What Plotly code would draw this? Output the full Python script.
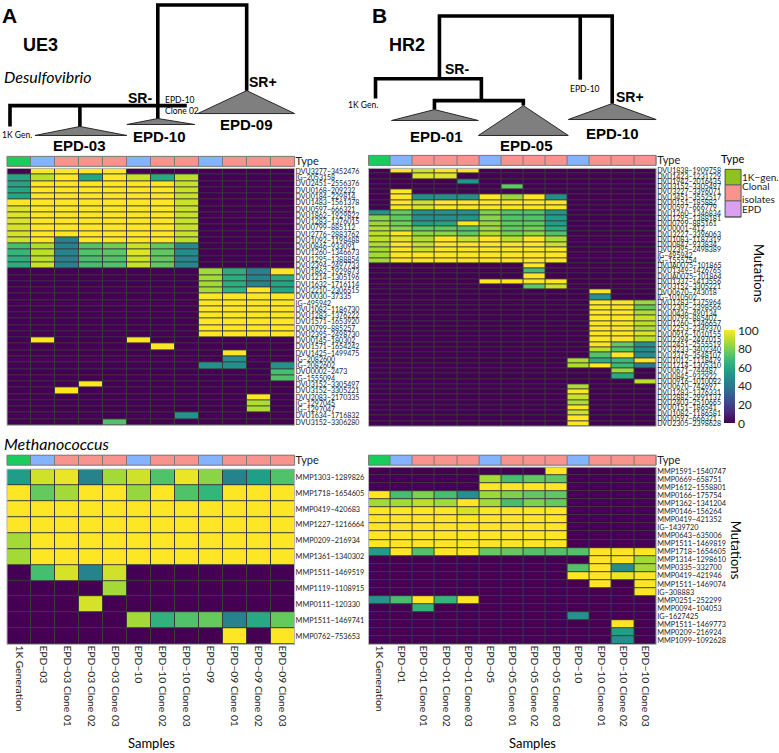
import plotly.graph_objects as go

W, H = 779, 753

# ---------------- data ----------------
samples_A = ["1K Generation", "EPD−03", "EPD−03 Clone 01", "EPD−03 Clone 02", "EPD−03 Clone 03",
             "EPD−10", "EPD−10 Clone 02", "EPD−10 Clone 03", "EPD−09", "EPD−09 Clone 01",
             "EPD−09 Clone 02", "EPD−09 Clone 03"]
types_A = [0, 1, 2, 2, 2, 1, 2, 2, 1, 2, 2, 2]   # 0 = 1K gen, 1 = EPD, 2 = clonal isolate

samples_B = ["1K Generation", "EPD−01", "EPD−01 Clone 01", "EPD−01 Clone 02", "EPD−01 Clone 03",
             "EPD−05", "EPD−05 Clone 01", "EPD−05 Clone 02", "EPD−05 Clone 03", "EPD−10",
             "EPD−10 Clone 01", "EPD−10 Clone 02", "EPD−10 Clone 03"]
types_B = [0, 1, 2, 2, 2, 1, 2, 2, 2, 1, 2, 2, 2]

mut_A_top = ["DVU3277−3452476", "IG−2053158", "DVU2451−2556376", "DVU0168−209232", "DVU0184−229814",
             "DVU1483−1561378", "DVU0597−666321", "DVU1862−1929822", "DVU1283−1376015", "DVU0799−885112",
             "DVU2776−2883762", "DVU1092−1198488", "DVU0846−933091", "DVU1260−1346673", "DVU1295−1388854",
             "DVU2394−2497733", "DVU1862−1929873", "DVU1214−1305196", "DVU1632−1716114", "DVU2210−2306515",
             "DVU0030−37335", "IG−495942", "DVU1082−1186730", "DVU1283−1376222", "DVU1571−1653920",
             "DVU0799−885257", "DVU2395−2498730", "DVU0145−180302", "DVU1571−1654242", "DVU1425−1499475",
             "IG−2082600", "IG−2082602", "DVU0002−2473", "IG−1555094", "DVU3152−3305497",
             "DVU3152−3305221", "DVU2083−2170335", "IG−1297045", "IG−1297047", "DVU1634−1716832",
             "DVU3152−3306280"]
vals_A_top = [
    [0, 100, 100, 100, 100, 0, 0, 0, 0, 0, 0, 0],
    [58, 90, 100, 58, 100, 92, 60, 90, 0, 0, 0, 0],
    [58, 100, 100, 100, 100, 100, 100, 92, 0, 0, 0, 0],
    [58, 100, 100, 100, 100, 100, 100, 92, 0, 0, 0, 0],
    [58, 100, 100, 100, 100, 100, 100, 92, 0, 0, 0, 0],
    [100, 100, 100, 100, 100, 100, 100, 92, 0, 0, 0, 0],
    [95, 100, 100, 100, 100, 100, 100, 92, 0, 0, 0, 0],
    [95, 100, 100, 100, 100, 100, 100, 92, 0, 0, 0, 0],
    [95, 100, 100, 100, 100, 100, 100, 92, 0, 0, 0, 0],
    [94, 100, 100, 100, 100, 100, 100, 92, 0, 0, 0, 0],
    [94, 100, 100, 100, 100, 100, 100, 92, 0, 0, 0, 0],
    [93, 100, 45, 100, 100, 100, 100, 90, 0, 0, 0, 0],
    [70, 88, 45, 72, 78, 92, 75, 48, 0, 0, 0, 0],
    [66, 90, 45, 72, 74, 95, 75, 48, 0, 0, 0, 0],
    [62, 90, 45, 70, 72, 92, 75, 46, 0, 0, 0, 0],
    [62, 92, 45, 70, 72, 92, 75, 46, 0, 0, 0, 0],
    [0, 0, 0, 0, 0, 0, 0, 0, 86, 62, 45, 100],
    [0, 0, 0, 0, 0, 0, 0, 0, 86, 62, 45, 60],
    [0, 0, 0, 0, 0, 0, 0, 0, 86, 62, 45, 58],
    [0, 0, 0, 0, 0, 0, 0, 0, 86, 65, 100, 58],
    [0, 0, 0, 0, 0, 0, 0, 0, 100, 100, 100, 100],
    [0, 0, 0, 0, 0, 0, 0, 0, 100, 100, 100, 100],
    [0, 0, 0, 0, 0, 0, 0, 0, 100, 100, 100, 100],
    [0, 0, 0, 0, 0, 0, 0, 0, 100, 100, 100, 100],
    [0, 0, 0, 0, 0, 0, 0, 0, 100, 100, 100, 100],
    [0, 0, 0, 0, 0, 0, 0, 0, 100, 100, 100, 100],
    [0, 0, 0, 0, 0, 0, 0, 0, 100, 100, 100, 100],
    [0, 100, 0, 0, 0, 100, 0, 0, 0, 0, 0, 0],
    [0, 0, 0, 0, 0, 0, 100, 0, 0, 0, 0, 0],
    [0, 0, 0, 0, 0, 0, 0, 0, 0, 100, 0, 0],
    [0, 0, 0, 0, 0, 0, 0, 0, 0, 50, 0, 0],
    [0, 0, 0, 0, 0, 0, 0, 0, 50, 50, 0, 50],
    [0, 0, 0, 0, 0, 0, 0, 0, 0, 0, 0, 70],
    [0, 0, 0, 0, 0, 0, 0, 0, 0, 0, 0, 72],
    [0, 0, 0, 100, 0, 0, 0, 0, 0, 0, 0, 0],
    [0, 0, 100, 0, 0, 0, 0, 0, 0, 0, 0, 0],
    [0, 0, 0, 0, 0, 0, 0, 0, 0, 0, 100, 0],
    [0, 0, 0, 0, 0, 0, 0, 0, 0, 0, 88, 0],
    [0, 0, 0, 0, 0, 0, 0, 0, 0, 0, 88, 0],
    [0, 0, 0, 0, 0, 0, 0, 52, 0, 0, 0, 0],
    [0, 0, 0, 0, 72, 0, 0, 0, 0, 0, 0, 0],
]

mut_A_bot = ["MMP1303−1289826", "MMP1718−1654605", "MMP0419−420683", "MMP1227−1216664",
             "MMP0209−216934", "MMP1361−1340302", "MMP1511−1469519", "MMP1119−1108915",
             "MMP0111−120330", "MMP1511−1469741", "MMP0762−753653"]
vals_A_bot = [
    [55, 93, 97, 45, 86, 93, 72, 97, 82, 45, 56, 72],
    [100, 76, 86, 100, 100, 84, 100, 72, 66, 100, 100, 100],
    [100, 100, 100, 100, 100, 100, 100, 100, 100, 100, 100, 100],
    [100, 100, 100, 100, 100, 100, 100, 100, 100, 100, 100, 100],
    [86, 100, 100, 100, 100, 100, 100, 100, 100, 100, 100, 100],
    [86, 100, 100, 100, 100, 100, 100, 100, 100, 100, 100, 100],
    [0, 70, 94, 45, 93, 0, 0, 0, 0, 0, 0, 0],
    [0, 0, 0, 0, 86, 0, 0, 0, 0, 0, 0, 0],
    [0, 0, 0, 94, 0, 0, 0, 0, 0, 0, 0, 0],
    [0, 0, 0, 0, 0, 86, 64, 72, 76, 45, 60, 76],
    [0, 0, 0, 0, 0, 0, 0, 0, 0, 100, 0, 100],
]

mut_B_top = ["DVU1838−1909758", "DVU1423−1231729", "DVU1942−2016435", "DVU3152−3305497", "DVU3227−3396071",
             "DVU3451−3552517", "DVU0151−185882", "DVU0597−666779", "DVU1260−1346834", "DVU1295−1388181",
             "DVU0799−885161", "DVU0001−412", "DVU3227−3396063", "DVU1083−1187319", "DVU0847−933834",
             "DVU2395−2498389", "IG−495942", "IG−1555754", "DVUA0075−101865", "DVU1349−1426765",
             "DVUA0075−101864", "DVU1337−1413556", "DVU3152−3305221", "DVU0670−743018", "IG−1010502",
             "DVU1283−1375964", "DVU2305−2398566", "DVU0436−490134", "DVU0799−885407", "DVU1260−1346657",
             "DVU2253−2349370", "DVU0916−1010155", "DVU2394−2497015", "DVU2451−2555519", "DVU3233−3402340",
             "DVU3376−3548107", "DVU1012−1118479", "DVU1214−1305310", "DVU0671−744487", "DVU0845−932922",
             "DVU0916−1010092", "DVU0670−742697", "DVU1283−1376331", "DVU2882−2991137", "DVU2403−2510665",
             "DVU0151−186541", "DVU1082−1186581", "DVU0597−666321", "DVU2305−2398628"]
vals_B_top = [
    [0, 100, 92, 100, 100, 0, 0, 0, 0, 0, 0, 0, 0],
    [0, 0, 95, 95, 0, 0, 0, 0, 0, 0, 0, 0, 0],
    [0, 0, 0, 0, 52, 0, 0, 0, 0, 0, 0, 0, 0],
    [0, 0, 0, 0, 0, 0, 75, 0, 0, 0, 0, 0, 0],
    [0, 100, 0, 0, 0, 0, 0, 0, 0, 0, 0, 0, 0],
    [0, 100, 50, 50, 50, 100, 85, 100, 50, 0, 0, 0, 0],
    [0, 100, 92, 100, 100, 100, 100, 100, 100, 0, 0, 0, 0],
    [0, 100, 95, 100, 100, 100, 100, 100, 100, 0, 0, 0, 0],
    [52, 75, 50, 50, 50, 80, 72, 72, 52, 0, 0, 0, 0],
    [82, 75, 50, 50, 52, 82, 72, 72, 55, 0, 0, 0, 0],
    [85, 78, 55, 58, 100, 85, 75, 75, 55, 0, 0, 0, 0],
    [88, 82, 75, 75, 72, 85, 75, 78, 62, 0, 0, 0, 0],
    [90, 100, 82, 82, 75, 88, 78, 82, 72, 0, 0, 0, 0],
    [90, 95, 88, 100, 92, 100, 90, 100, 88, 0, 0, 0, 0],
    [88, 100, 92, 100, 100, 100, 100, 100, 92, 0, 0, 0, 0],
    [86, 100, 92, 100, 100, 100, 100, 100, 100, 0, 0, 0, 0],
    [86, 100, 100, 100, 100, 100, 100, 100, 100, 0, 0, 0, 0],
    [86, 100, 100, 100, 100, 100, 100, 100, 100, 0, 0, 0, 0],
    [0, 0, 0, 0, 0, 0, 0, 100, 0, 0, 0, 0, 0],
    [0, 0, 0, 0, 0, 0, 0, 70, 0, 0, 0, 0, 0],
    [0, 0, 0, 0, 0, 0, 0, 100, 0, 0, 0, 0, 0],
    [0, 0, 0, 0, 0, 100, 100, 100, 100, 0, 0, 0, 0],
    [0, 0, 0, 0, 0, 0, 0, 75, 92, 0, 0, 0, 0],
    [0, 0, 0, 0, 0, 0, 0, 0, 0, 0, 100, 0, 0],
    [0, 0, 0, 0, 0, 0, 0, 0, 0, 0, 52, 0, 0],
    [0, 0, 0, 0, 0, 0, 0, 0, 0, 0, 100, 100, 85],
    [0, 0, 0, 0, 0, 0, 0, 0, 0, 0, 100, 100, 75],
    [0, 0, 0, 0, 0, 0, 0, 0, 0, 0, 100, 100, 88],
    [0, 0, 0, 0, 0, 0, 0, 0, 0, 0, 100, 100, 92],
    [0, 0, 0, 0, 0, 0, 0, 0, 0, 0, 100, 100, 90],
    [0, 0, 0, 0, 0, 0, 0, 0, 0, 0, 100, 100, 88],
    [0, 0, 0, 0, 0, 0, 0, 0, 0, 0, 100, 100, 95],
    [0, 0, 0, 0, 0, 0, 0, 0, 0, 0, 100, 100, 90],
    [0, 0, 0, 0, 0, 0, 0, 0, 0, 0, 100, 75, 50],
    [0, 0, 0, 0, 0, 0, 0, 0, 0, 0, 90, 72, 48],
    [0, 0, 0, 0, 0, 0, 0, 0, 0, 0, 72, 100, 48],
    [0, 0, 0, 0, 0, 0, 0, 0, 0, 88, 62, 68, 100],
    [0, 0, 0, 0, 0, 0, 0, 0, 0, 88, 100, 68, 42],
    [0, 0, 0, 0, 0, 0, 0, 0, 0, 0, 0, 85, 0],
    [0, 0, 0, 0, 0, 0, 0, 0, 0, 0, 0, 60, 0],
    [0, 0, 0, 0, 0, 0, 0, 0, 0, 0, 0, 0, 90],
    [0, 0, 0, 0, 0, 0, 0, 0, 0, 88, 0, 0, 0],
    [0, 0, 0, 0, 0, 0, 0, 0, 0, 100, 0, 0, 0],
    [0, 0, 0, 0, 0, 0, 0, 0, 0, 92, 0, 0, 0],
    [0, 0, 0, 0, 0, 0, 0, 0, 0, 88, 0, 0, 0],
    [0, 0, 0, 0, 0, 0, 0, 0, 0, 100, 0, 0, 0],
    [0, 0, 0, 0, 0, 0, 0, 0, 0, 92, 0, 0, 0],
    [0, 0, 0, 0, 0, 0, 0, 0, 0, 100, 0, 0, 0],
    [0, 0, 0, 0, 0, 0, 0, 0, 0, 100, 0, 0, 0],
]

mut_B_bot = ["MMP1591−1540747", "MMP0669−658751", "MMP1612−1558801", "MMP0166−175754", "MMP1362−1341204",
             "MMP0146−156264", "MMP0419−421352", "IG−1439720", "MMP0643−635006", "MMP1511−1469819",
             "MMP1718−1654605", "MMP1314−1298610", "MMP0335−332700", "MMP0419−421946", "MMP1511−1469074",
             "IG−308883", "MMP0251−252299", "MMP0094−104053", "IG−1627425", "MMP1511−1469773",
             "MMP0209−216924", "MMP1099−1092628"]
vals_B_bot = [
    [0, 0, 0, 0, 0, 0, 0, 0, 100, 0, 0, 0, 0],
    [0, 0, 0, 0, 0, 86, 70, 75, 75, 0, 0, 0, 0],
    [0, 0, 0, 0, 0, 100, 100, 100, 100, 0, 0, 0, 0],
    [100, 70, 80, 70, 50, 85, 80, 75, 75, 0, 0, 0, 0],
    [86, 86, 90, 86, 100, 86, 70, 80, 76, 0, 0, 0, 0],
    [100, 100, 100, 100, 94, 100, 100, 100, 100, 0, 0, 0, 0],
    [100, 100, 100, 100, 100, 100, 100, 100, 100, 0, 0, 0, 0],
    [100, 100, 100, 100, 100, 100, 100, 100, 100, 0, 0, 0, 0],
    [100, 100, 100, 100, 100, 100, 100, 100, 100, 0, 0, 0, 0],
    [100, 100, 100, 100, 100, 100, 100, 100, 100, 0, 0, 0, 0],
    [55, 100, 72, 100, 100, 76, 76, 72, 72, 72, 100, 100, 100],
    [0, 0, 0, 0, 0, 0, 0, 0, 0, 0, 100, 100, 86],
    [0, 0, 0, 0, 0, 0, 0, 0, 0, 72, 100, 50, 86],
    [0, 0, 0, 0, 0, 0, 0, 0, 0, 100, 100, 97, 100],
    [0, 0, 0, 0, 0, 0, 0, 0, 0, 0, 100, 0, 100],
    [0, 0, 0, 0, 0, 0, 0, 0, 0, 0, 0, 0, 100],
    [52, 70, 100, 66, 100, 0, 0, 0, 0, 0, 0, 0, 0],
    [0, 0, 66, 0, 0, 0, 0, 0, 0, 0, 0, 0, 0],
    [0, 0, 0, 0, 0, 0, 0, 0, 0, 52, 0, 0, 0],
    [0, 0, 0, 0, 0, 0, 0, 0, 0, 0, 0, 100, 0],
    [0, 0, 0, 0, 0, 0, 0, 0, 0, 0, 0, 56, 0],
    [0, 0, 0, 0, 0, 0, 0, 0, 0, 0, 0, 50, 0],
]

legend_types = ["1K−gen.", "Clonal<br>isolates", "EPD"]
legend_codes = [[0], [1], [2]]
colorbar_ticks = [0, 20, 40, 60, 80, 100]

# ---------------- styling ----------------
FONT = "Lato, 'Open Sans', sans-serif"
BOLD = "'Liberation Sans', Arial, sans-serif"
TXT = "#222222"
type_cs = [[0, "#19CC5C"], [0.25, "#19CC5C"], [0.25, "#84B3FF"], [0.75, "#84B3FF"],
           [0.75, "#F8938D"], [1, "#F8938D"]]
legend_cs = [[0, "#8FC21E"], [0.25, "#8FC21E"], [0.25, "#F8938D"], [0.75, "#F8938D"],
             [0.75, "#DBA0F3"], [1, "#DBA0F3"]]


def fx(p):
    return p / W


def fy(p):
    return 1 - p / H


fig = go.Figure()

fig.add_trace(go.Heatmap(z=[types_A], x=list(range(len(samples_A))), y=[0], colorscale=type_cs,
                         zmin=0, zmax=2, xgap=1, ygap=0, showscale=False, hoverinfo="skip",
                         xaxis="x", yaxis="y"))
fig.add_trace(go.Heatmap(z=vals_A_top, x=list(range(len(samples_A))), y=list(range(len(mut_A_top))),
                         colorscale="Viridis", zmin=0, zmax=100, xgap=1, ygap=1, showscale=False,
                         hoverinfo="skip", xaxis="x", yaxis="y2"))
fig.add_trace(go.Heatmap(z=[types_A], x=list(range(len(samples_A))), y=[0], colorscale=type_cs,
                         zmin=0, zmax=2, xgap=1, ygap=0, showscale=False, hoverinfo="skip",
                         xaxis="x", yaxis="y3"))
fig.add_trace(go.Heatmap(z=vals_A_bot, x=list(range(len(samples_A))), y=list(range(len(mut_A_bot))),
                         colorscale="Viridis", zmin=0, zmax=100, xgap=1, ygap=1, showscale=False,
                         hoverinfo="skip", xaxis="x", yaxis="y4"))
fig.add_trace(go.Heatmap(z=[types_B], x=list(range(len(samples_B))), y=[0], colorscale=type_cs,
                         zmin=0, zmax=2, xgap=1, ygap=0, showscale=False, hoverinfo="skip",
                         xaxis="x2", yaxis="y5"))
fig.add_trace(go.Heatmap(z=vals_B_top, x=list(range(len(samples_B))), y=list(range(len(mut_B_top))),
                         colorscale="Viridis", zmin=0, zmax=100, xgap=1, ygap=1, hoverinfo="skip",
                         xaxis="x2", yaxis="y6", showscale=True,
                         colorbar=dict(x=fx(725), xanchor="left", y=fy(423), yanchor="bottom",
                                       len=93 / H, lenmode="fraction", thickness=11,
                                       thicknessmode="pixels", outlinewidth=0, xpad=0, ypad=0,
                                       tickvals=colorbar_ticks, ticks="",
                                       tickfont=dict(size=12, family=FONT, color=TXT))))
fig.add_trace(go.Heatmap(z=[types_B], x=list(range(len(samples_B))), y=[0], colorscale=type_cs,
                         zmin=0, zmax=2, xgap=1, ygap=0, showscale=False, hoverinfo="skip",
                         xaxis="x2", yaxis="y7"))
fig.add_trace(go.Heatmap(z=vals_B_bot, x=list(range(len(samples_B))), y=list(range(len(mut_B_bot))),
                         colorscale="Viridis", zmin=0, zmax=100, xgap=1, ygap=1, showscale=False,
                         hoverinfo="skip", xaxis="x2", yaxis="y8"))
fig.add_trace(go.Heatmap(z=legend_codes, x=[0], y=[0, 1, 2], colorscale=legend_cs, zmin=0, zmax=2,
                         xgap=0, ygap=1, showscale=False, hoverinfo="skip", xaxis="x3", yaxis="y9"))

# ---------------- schematic trees (pixel layout of the drawing) ----------------
tree_lines = [
    [(158, 104), (158, 3), (247, 3), (247, 89)],
    [(10, 125), (10, 104), (187, 104)],
    [(80, 104), (80, 125)],
    [(158, 104), (158, 117)],
    [(440, 77), (440, 14), (613, 14), (613, 102)],
    [(581, 14), (581, 78)],
    [(376, 97), (376, 77), (482, 77), (482, 99)],
    [(435, 108), (435, 99), (524, 99), (524, 104)],
]
tree_clades = [  # apex x, apex y, base left, base right, base y
    (80, 125, 35, 127, 134),
    (158, 117, 127, 195, 123),
    (247, 89, 198, 295, 112),
    (435, 108, 392, 479, 119),
    (524, 104, 479, 569, 134),
    (613, 102, 569, 657, 118),
]
for ax, ay, bl, br, by in tree_clades:
    fig.add_trace(go.Scatter(x=[ax, br, bl, ax], y=[ay, by, by, ay], mode="lines", fill="toself",
                             fillcolor="#7f7f7f", line=dict(color="#2a2a2a", width=1),
                             hoverinfo="skip", xaxis="x4", yaxis="y10"))
lx, ly = [], []
for seg in tree_lines:
    lx += [p[0] for p in seg] + [None]
    ly += [p[1] for p in seg] + [None]
fig.add_trace(go.Scatter(x=lx, y=ly, mode="lines", line=dict(color="black", width=3.6),
                         hoverinfo="skip", xaxis="x4", yaxis="y10"))


# ---------------- axes ----------------
def xax(domain, n, anchor, labels):
    return dict(domain=domain, range=[-0.5, n - 0.5], anchor=anchor, showgrid=False, zeroline=False,
                tickvals=list(range(n)), ticktext=labels, tickangle=90, ticks="",
                tickfont=dict(size=10.3, family=FONT, color=TXT), showline=False)


def yax(top, bottom, anchor, labels, size):
    n = len(labels)
    return dict(domain=[fy(bottom), fy(top)], range=[n - 0.5, -0.5], anchor=anchor, side="right",
                showgrid=False, zeroline=False, tickvals=list(range(n)), ticktext=labels, ticks="",
                tickfont=dict(size=size, family=FONT, color=TXT))


def ytype(top, bottom, anchor):
    return dict(domain=[fy(bottom), fy(top)], range=[-0.5, 0.5], anchor=anchor, side="right",
                showgrid=False, zeroline=False, tickvals=[0], ticktext=["Type"], ticks="",
                tickfont=dict(size=11, family=FONT, color=TXT))


layout = dict(
    width=W, height=H, margin=dict(l=0, r=0, t=0, b=0), paper_bgcolor="white",
    plot_bgcolor="rgba(0,0,0,0)", showlegend=False, font=dict(family=FONT, color=TXT),
    xaxis=xax([fx(7), fx(295)], len(samples_A), "y4", samples_A),
    xaxis2=xax([fx(369), fx(657)], len(samples_B), "y8", samples_B),
    xaxis3=dict(domain=[fx(726), fx(742)], range=[-0.5, 0.5], anchor="y9", showticklabels=False,
                showgrid=False, zeroline=False),
    xaxis4=dict(domain=[0, 1], range=[0, W], anchor="y10", visible=False),
    yaxis=ytype(155, 165, "x"),
    yaxis2=yax(167, 425, "x", mut_A_top, 7),
    yaxis3=ytype(455, 465, "x"),
    yaxis4=yax(469, 645, "x", mut_A_bot, 7.3),
    yaxis5=ytype(154, 164, "x2"),
    yaxis6=yax(167, 426, "x2", mut_B_top, 7),
    yaxis7=ytype(455, 465, "x2"),
    yaxis8=yax(467, 645, "x2", mut_B_bot, 7.3),
    yaxis9=dict(domain=[fy(216), fy(168)], range=[2.5, -0.5], anchor="x3", side="right",
                showgrid=False, zeroline=False, tickvals=[0, 1, 2], ticktext=legend_types, ticks="",
                tickfont=dict(size=10, family=FONT, color=TXT)),
    yaxis10=dict(domain=[0, 1], range=[H, 0], anchor="x4", visible=False),
)
fig.update_layout(**layout)

shapes = []
for xr, yr, fill, frame in [("x", "y", "#7a7a7a", "#7a7a7a"), ("x", "y2", "#3a3a3a", "#b8b8b8"),
                            ("x", "y3", "#7a7a7a", "#7a7a7a"), ("x", "y4", "#3a3a3a", "#b8b8b8"),
                            ("x2", "y5", "#7a7a7a", "#7a7a7a"), ("x2", "y6", "#3a3a3a", "#b8b8b8"),
                            ("x2", "y7", "#7a7a7a", "#7a7a7a"), ("x2", "y8", "#3a3a3a", "#b8b8b8"),
                            ("x3", "y9", "#555555", "#555555")]:
    shapes.append(dict(type="rect", xref=xr + " domain", yref=yr + " domain", x0=0, x1=1, y0=0, y1=1,
                       fillcolor=fill, line=dict(width=0), layer="below"))
    shapes.append(dict(type="rect", xref=xr + " domain", yref=yr + " domain", x0=0, x1=1, y0=0, y1=1,
                       fillcolor="rgba(0,0,0,0)", line=dict(width=1, color=frame), layer="above"))
fig.update_layout(shapes=shapes)


# ---------------- text ----------------
def ann(text, x, y, size, family=FONT, anchor="center", angle=0, bold=False, italic=False):
    t = text
    if bold:
        t = "<b>" + t + "</b>"
    if italic:
        t = "<i>" + t + "</i>"
    return dict(text=t, x=fx(x), y=fy(y), xref="paper", yref="paper", showarrow=False,
                xanchor=anchor, yanchor="middle", textangle=angle,
                font=dict(size=size, family=family, color="black"))


annotations = [
    ann("A", 10, 14, 21, BOLD, bold=True),
    ann("UE3", 41, 43, 18, BOLD, bold=True),
    ann("Desulfovibrio", 2, 75, 16, FONT, anchor="left", italic=True),
    ann("SR-", 140, 96, 14, BOLD, bold=True),
    ann("SR+", 263, 80, 14, BOLD, bold=True),
    ann("EPD-10", 163, 98, 8.5, FONT, anchor="left"),
    ann("Clone 02", 163, 109, 8.5, FONT, anchor="left"),
    ann("1K Gen.", 0, 134, 8.5, FONT, anchor="left"),
    ann("EPD-03", 80, 144, 15, BOLD, bold=True),
    ann("EPD-10", 160, 135, 15, BOLD, bold=True),
    ann("EPD-09", 247, 123, 15, BOLD, bold=True),
    ann("B", 380, 14, 21, BOLD, bold=True),
    ann("HR2", 408, 43, 18, BOLD, bold=True),
    ann("SR-", 458, 67, 14, BOLD, bold=True),
    ann("SR+", 631, 95, 14, BOLD, bold=True),
    ann("EPD-10", 586, 87, 8.5, FONT),
    ann("1K Gen.", 380, 103, 8.5, FONT, anchor="right"),
    ann("EPD-01", 437, 135, 15, BOLD, bold=True),
    ann("EPD-05", 527, 144, 15, BOLD, bold=True),
    ann("EPD-10", 613, 132, 15, BOLD, bold=True),
    ann("Methanococcus", 2, 443, 16, FONT, anchor="left", italic=True),
    ann("Type", 733, 157, 11, FONT),
    ann("Mutations", 760, 272, 13, FONT, angle=90),
    ann("Mutations", 737, 550, 13, FONT, angle=90),
    ann("Samples", 152, 744, 13, FONT),
    ann("Samples", 533, 744, 13, FONT),
]
fig.update_layout(annotations=annotations)

fig.write_html("out.html", config={"displayModeBar": False, "staticPlot": True},
               post_script="document.body.style.margin='0px';document.body.style.overflow='hidden';")
